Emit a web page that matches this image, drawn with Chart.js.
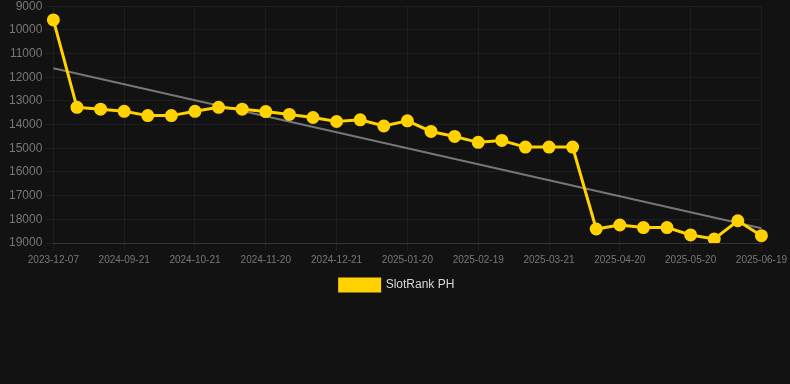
<!DOCTYPE html>
<html>
<head>
<meta charset="utf-8">
<script src="https://cdn.jsdelivr.net/npm/chart.js@4"></script>
<style>
  html, body { margin: 0; padding: 0; background: #121212; overflow: hidden; }
  #wrap { width: 790px; height: 305px; position: relative; margin-top: -4px; }
</style>
</head>
<body>
<div id="wrap"><canvas id="rankChart"></canvas></div>
<script>
// dates of each sample
const dates = ['2023-12-07', '2024-09-01', '2024-09-11', '2024-09-21', '2024-10-01', '2024-10-11',
  '2024-10-21', '2024-10-31', '2024-11-10', '2024-11-20', '2024-11-30', '2024-12-11',
  '2024-12-21', '2024-12-31', '2025-01-10', '2025-01-20', '2025-01-30', '2025-02-09',
  '2025-02-19', '2025-03-01', '2025-03-11', '2025-03-21', '2025-03-31', '2025-04-10',
  '2025-04-20', '2025-04-30', '2025-05-10', '2025-05-20', '2025-05-30', '2025-06-09',
  '2025-06-19'];

// rank values (lower is better, axis is reversed)
const rankPH = [9580, 13270, 13350, 13440, 13620, 13620, 13440, 13270, 13350, 13450,
  13570, 13700, 13870, 13800, 14060, 13840, 14290, 14500, 14750, 14670,
  14950, 14950, 14950, 18410, 18240, 18350, 18350, 18660, 18830, 18060,
  18690];

// trend line end points
const trendStart = 11620;
const trendEnd = 18380;

const yTicks = [9000, 10000, 11000, 12000, 13000, 14000, 15000, 16000, 17000, 18000, 19000];

document.addEventListener("DOMContentLoaded", function() {
    const ctx = document.getElementById('rankChart').getContext('2d');

    const trendData = dates.map(function(d, i) {
        if (i === 0) return trendStart;
        if (i === dates.length - 1) return trendEnd;
        return null;
    });

    const rankChart = new Chart(ctx, {
        type: 'line',
        data: {
            labels: dates,
            datasets: [{
                label: 'SlotRank PH',
                data: rankPH,
                borderColor: '#ffd200',
                backgroundColor: '#ffd200',
                borderWidth: 3,
                pointRadius: 5,
                pointHoverRadius: 6,
                tension: 0
            }, {
                label: 'Trend',
                data: trendData,
                borderColor: 'rgba(130, 130, 130, 0.9)',
                borderWidth: 2,
                pointRadius: 0,
                spanGaps: true
            }]
        },
        options: {
            responsive: true,
            maintainAspectRatio: false,
            animation: false,
            layout: { padding: { top: 0, right: 2, left: 6 } },
            plugins: {
                legend: {
                    position: 'bottom',
                    labels: {
                        boxWidth: 40,
                        boxHeight: 12,
                        color: '#d8d8d8',
                        font: { family: 'Liberation Sans, Arial', size: 12 },
                        filter: function(item) { return item.text !== 'Trend'; }
                    }
                },
                tooltip: { enabled: false }
            },
            scales: {
                x: {
                    grid: {
                        color: function(c) {
                            return c.index % 3 === 0 ? 'rgba(255,255,255,0.05)' : 'rgba(0,0,0,0)';
                        }
                    },
                    border: { color: 'rgba(255,255,255,0.1)' },
                    ticks: {
                        color: '#777',
                        font: { family: 'Liberation Sans, Arial', size: 10 },
                        autoSkip: false,
                        maxRotation: 0,
                        callback: function(value, index) {
                            return index % 3 === 0 ? this.getLabelForValue(value) : '';
                        }
                    }
                },
                y: {
                    reverse: true,
                    min: 9000,
                    max: 19000,
                    afterBuildTicks: function(axis) {
                        axis.ticks = yTicks.map(function(v) { return { value: v }; });
                    },
                    grid: { color: 'rgba(255,255,255,0.05)' },
                    border: { display: false },
                    ticks: {
                        color: '#777',
                        font: { family: 'Liberation Sans, Arial', size: 12 },
                        callback: function(value) { return String(value); }
                    }
                }
            }
        }
    });
});
</script>
</body>
</html>
